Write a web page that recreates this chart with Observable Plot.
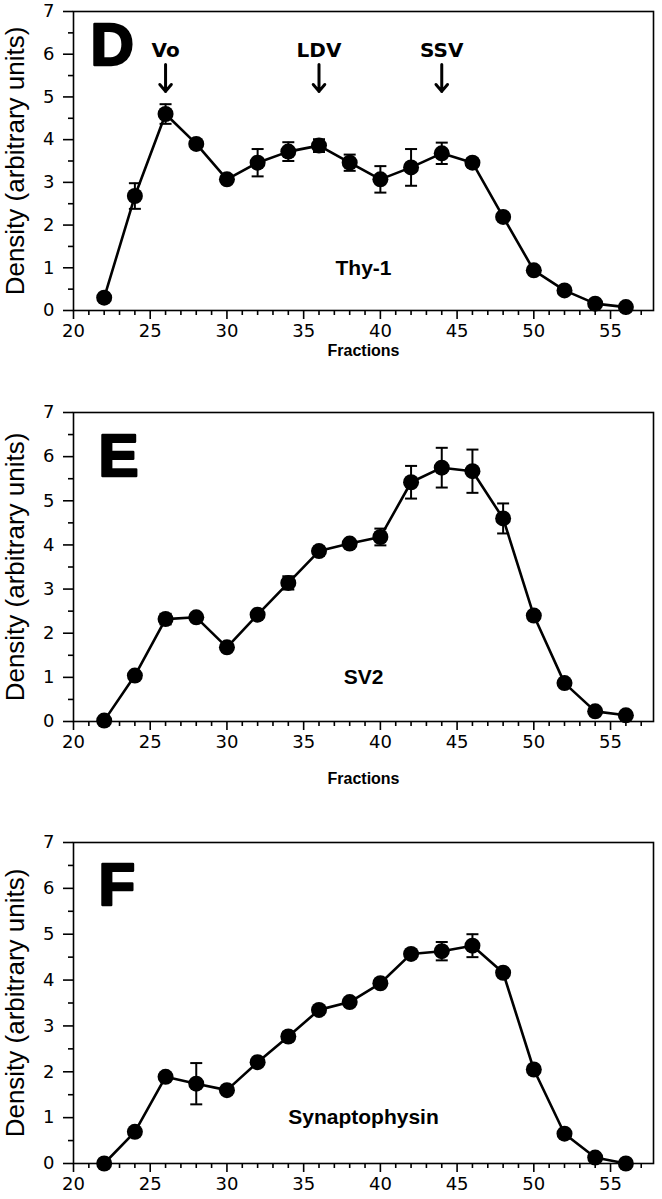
<!DOCTYPE html>
<html>
<head>
<meta charset="utf-8">
<script src="https://cdn.jsdelivr.net/npm/d3@7"></script>
<script src="https://cdn.jsdelivr.net/npm/@observablehq/plot@0.6"></script>
<style>
  html, body { margin: 0; padding: 0; background: white; }
  #wrap { position: relative; width: 662px; height: 1199px; overflow: hidden; background: white; }
  #wrap > div { position: absolute; left: 0; }
</style>
</head>
<body>
<div id="wrap">
  <div id="pD" style="top:0px"></div>
  <div id="pE" style="top:360px"></div>
  <div id="pF" style="top:800px"></div>
</div>
<script>
// ---- data ----
const fractions = [22, 24, 26, 28, 30, 32, 34, 36, 38, 40, 42, 44, 46, 48, 50, 52, 54, 56];

const thyMean = [0.30, 2.68, 4.60, 3.90, 3.07, 3.46, 3.72, 3.86, 3.46, 3.07, 3.35, 3.68, 3.46, 2.19, 0.94, 0.47, 0.16, 0.08];
const thyErr  = [0.00, 0.30, 0.23, 0.08, 0.08, 0.32, 0.22, 0.15, 0.19, 0.31, 0.43, 0.25, 0.10, 0.00, 0.00, 0.00, 0.00, 0.00];

const sv2Mean = [0.02, 1.04, 2.32, 2.36, 1.68, 2.42, 3.14, 3.86, 4.03, 4.18, 5.42, 5.75, 5.67, 4.60, 2.40, 0.87, 0.23, 0.14];
const sv2Err  = [0.00, 0.05, 0.12, 0.05, 0.00, 0.08, 0.15, 0.10, 0.07, 0.19, 0.37, 0.45, 0.49, 0.34, 0.10, 0.00, 0.00, 0.00];

const synMean = [0.00, 0.69, 1.89, 1.74, 1.60, 2.21, 2.77, 3.35, 3.52, 3.93, 4.57, 4.63, 4.75, 4.16, 2.05, 0.65, 0.13, 0.00];
const synErr  = [0.00, 0.05, 0.05, 0.45, 0.05, 0.07, 0.10, 0.08, 0.07, 0.08, 0.08, 0.20, 0.25, 0.07, 0.05, 0.00, 0.00, 0.00];

const markerFractions = [26, 36, 44];
const markerLabels = ["Vo", "LDV", "SSV"];

const majorX = [20, 25, 30, 35, 40, 45, 50, 55];
const minorX = [21, 22, 23, 24, 26, 27, 28, 29, 31, 32, 33, 34, 36, 37, 38, 39, 41, 42, 43, 44, 46, 47, 48, 49, 51, 52, 53, 54, 56, 57];
const majorY = [0, 1, 2, 3, 4, 5, 6, 7];
const minorY = [0.5, 1.5, 2.5, 3.5, 4.5, 5.5, 6.5];

const yTitle = "Density (arbitrary units)";
const xTitle = "Fractions";

// horizontal cap symbol for error bars
const capSymbol = {
  draw(context, size) {
    const w = Math.sqrt(size / Math.PI);
    context.moveTo(-w, 0);
    context.lineTo(w, 0);
  }
};

const intFormat = d => String(d);

function panel({mean, err, protein, letter, height, marginTop, marginBottom, showXTitle, xTitleDy, letterDx, letterDy, extra = []}) {
  const data = fractions.map((f, i) => ({f, m: mean[i], e: err[i]}));
  const withErr = data.filter(d => d.e > 0);
  const caps = withErr.flatMap(d => [{f: d.f, v: d.m + d.e}, {f: d.f, v: d.m - d.e}]);
  return Plot.plot({
    width: 662,
    height,
    marginLeft: 73,
    marginRight: 9,
    marginTop,
    marginBottom,
    style: {background: "white", color: "black", fontFamily: "'DejaVu Sans', sans-serif", overflow: "visible"},
    x: {domain: [20, 57.8]},
    y: {domain: [0, 7]},
    marks: [
      Plot.frame({stroke: "black", strokeWidth: 1.6}),
      Plot.axisX({ticks: majorX, tickFormat: intFormat, tickSize: 9, tickPadding: 5, fontSize: 18, label: null, strokeWidth: 1.6}),
      Plot.axisX({ticks: minorX, tickSize: 5, tickFormat: () => "", label: null, strokeWidth: 1.6}),
      Plot.axisY({ticks: majorY, tickFormat: intFormat, tickSize: 10, tickPadding: 9, fontSize: 18, label: null, strokeWidth: 1.6}),
      Plot.axisY({ticks: minorY, tickSize: 5, tickFormat: () => "", label: null, strokeWidth: 1.6}),
      Plot.text([yTitle], {text: d => d, frameAnchor: "left", dx: -58, rotate: -90, textAnchor: "middle", fontSize: 26, fontFamily: "'Liberation Sans', Arial, sans-serif"}),
      showXTitle ? Plot.text([xTitle], {text: d => d, frameAnchor: "bottom", dy: xTitleDy, textAnchor: "middle", fontSize: 16, fontWeight: "bold", fontFamily: "'Liberation Sans', Arial, sans-serif"}) : null,
      Plot.text([letter], {text: d => d, frameAnchor: "top-left", dx: letterDx, dy: letterDy, lineAnchor: "top", textAnchor: "start", fontSize: 60, fontWeight: "bold", stroke: "black", strokeWidth: 2.5, fill: "black", fontFamily: "'Liberation Sans', Arial, sans-serif"}),
      Plot.text([protein], {text: d => d, x: () => 38.9, y: () => 1.0, fontSize: 21, fontWeight: "bold", fontFamily: "'Liberation Sans', Arial, sans-serif"}),
      Plot.line(data, {x: "f", y: "m", stroke: "black", strokeWidth: 2.6}),
      Plot.ruleX(withErr, {x: "f", y1: d => d.m - d.e, y2: d => d.m + d.e, stroke: "black", strokeWidth: 2}),
      Plot.dot(caps, {x: "f", y: "v", symbol: capSymbol, r: 6, stroke: "black", strokeWidth: 2, fill: "none"}),
      Plot.dot(data, {x: "f", y: "m", r: 8, fill: "black", stroke: "none"}),
      ...extra
    ]
  });
}

const arrowData = markerFractions.map((f, i) => ({f, label: markerLabels[i]}));
const dExtra = [
  Plot.text(arrowData, {x: "f", y: () => 6.09, text: "label", fontSize: 20, fontWeight: "bold", fontFamily: "'DejaVu Sans', sans-serif"}),
  Plot.arrow(arrowData, {x1: "f", x2: "f", y1: () => 5.76, y2: () => 5.13, stroke: "black", strokeWidth: 3, headLength: 13, headAngle: 80, bend: 0})
];

document.getElementById("pD").append(panel({
  mean: thyMean, err: thyErr, protein: "Thy-1", letter: "D",
  height: 360, marginTop: 11, marginBottom: 50, showXTitle: true, xTitleDy: 45,
  letterDx: 17, letterDy: 11, extra: dExtra
}));
document.getElementById("pE").append(panel({
  mean: sv2Mean, err: sv2Err, protein: "SV2", letter: "E",
  height: 440, marginTop: 52, marginBottom: 79, showXTitle: true, xTitleDy: 62,
  letterDx: 25, letterDy: 21
}));
document.getElementById("pF").append(panel({
  mean: synMean, err: synErr, protein: "Synaptophysin", letter: "F",
  height: 399, marginTop: 42, marginBottom: 36, showXTitle: false, xTitleDy: 0,
  letterDx: 25, letterDy: 20
}));
</script>
</body>
</html>
